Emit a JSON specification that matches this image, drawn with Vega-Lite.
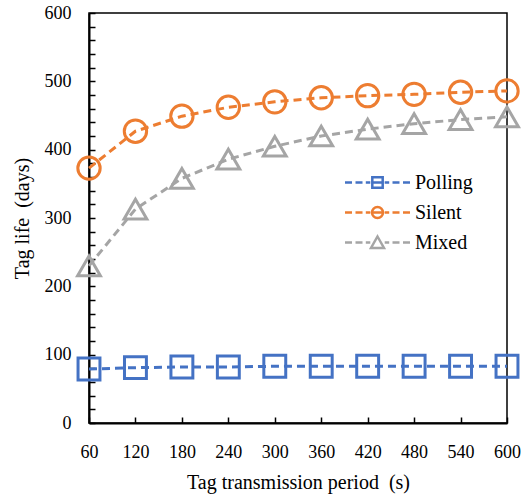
{
  "$schema": "https://vega.github.io/schema/vega-lite/v6.json",
  "width": 418,
  "height": 410,
  "autosize": {"type": "none"},
  "padding": {"left": 89, "top": 13, "right": 20, "bottom": 76},
  "background": "white",
  "data": {
    "values": [
      {"period": 60, "series": "Polling", "life": 79},
      {"period": 120, "series": "Polling", "life": 81},
      {"period": 180, "series": "Polling", "life": 82},
      {"period": 240, "series": "Polling", "life": 82},
      {"period": 300, "series": "Polling", "life": 83},
      {"period": 360, "series": "Polling", "life": 83},
      {"period": 420, "series": "Polling", "life": 83},
      {"period": 480, "series": "Polling", "life": 83},
      {"period": 540, "series": "Polling", "life": 83},
      {"period": 600, "series": "Polling", "life": 83},
      {"period": 60, "series": "Silent", "life": 373},
      {"period": 120, "series": "Silent", "life": 427},
      {"period": 180, "series": "Silent", "life": 449},
      {"period": 240, "series": "Silent", "life": 462},
      {"period": 300, "series": "Silent", "life": 470},
      {"period": 360, "series": "Silent", "life": 476},
      {"period": 420, "series": "Silent", "life": 479},
      {"period": 480, "series": "Silent", "life": 481},
      {"period": 540, "series": "Silent", "life": 484},
      {"period": 600, "series": "Silent", "life": 486},
      {"period": 60, "series": "Mixed", "life": 230},
      {"period": 120, "series": "Mixed", "life": 313},
      {"period": 180, "series": "Mixed", "life": 358},
      {"period": 240, "series": "Mixed", "life": 386},
      {"period": 300, "series": "Mixed", "life": 405},
      {"period": 360, "series": "Mixed", "life": 420},
      {"period": 420, "series": "Mixed", "life": 430},
      {"period": 480, "series": "Mixed", "life": 438},
      {"period": 540, "series": "Mixed", "life": 444},
      {"period": 600, "series": "Mixed", "life": 448}
    ]
  },
  "encoding": {
    "x": {
      "field": "period",
      "type": "quantitative",
      "scale": {"domain": [60, 600], "nice": false, "zero": false},
      "axis": {
        "title": "Tag transmission period\u00a0 (s)",
        "values": [60, 120, 180, 240, 300, 360, 420, 480, 540, 600],
        "grid": false,
        "tickSize": -6,
        "labelFlush": false,
        "labelPadding": 26,
        "titlePadding": 11
      }
    },
    "y": {
      "field": "life",
      "type": "quantitative",
      "scale": {"domain": [0, 600], "nice": false},
      "axis": {
        "title": "Tag life\u00a0 (days)",
        "values": [0, 20, 40, 60, 80, 100, 120, 140, 160, 180, 200, 220, 240, 260, 280, 300, 320, 340, 360, 380, 400, 420, 440, 460, 480, 500, 520, 540, 560, 580, 600],
        "labelExpr": "datum.value % 100 === 0 ? datum.label : ''",
        "grid": false,
        "tickSize": -6,
        "labelFlush": false,
        "labelPadding": 24,
        "titlePadding": 12
      }
    },
    "color": {
      "field": "series",
      "type": "nominal",
      "scale": {"domain": ["Polling", "Silent", "Mixed"], "range": ["#4472C4", "#ED7D31", "#A5A5A5"]}
    }
  },
  "layer": [
    {
      "mark": {"type": "line", "strokeWidth": 3, "strokeDash": [8, 5]},
      "encoding": {
        "color": {"field": "series", "type": "nominal", "legend": null}
      }
    },
    {
      "mark": {"type": "point", "filled": false, "strokeWidth": 3, "opacity": 1},
      "encoding": {
        "shape": {
          "field": "series",
          "type": "nominal",
          "scale": {"domain": ["Polling", "Silent", "Mixed"], "range": ["square", "circle", "triangle-up"]},
          "legend": null
        },
        "size": {
          "field": "series",
          "type": "nominal",
          "scale": {"domain": ["Polling", "Silent", "Mixed"], "range": [480, 520, 620]},
          "legend": null
        },
        "color": {
          "field": "series",
          "type": "nominal",
          "legend": {
            "title": null,
            "orient": "none",
            "legendX": 277,
            "legendY": 158,
            "labelFont": "Liberation Serif",
            "labelFontSize": 20,
            "labelColor": "black",
            "labelOffset": 26,
            "symbolSize": 100,
            "rowPadding": 8,
            "encoding": {
              "symbols": {
                "shape": {"value": {"expr": "datum.value === 'Polling' ? 'M-3.25,0L-2.55,0M-2.2,0L-1.5,0M-1.17,0L-0.72,0M0.72,0L1.17,0M1.5,0L2.2,0M2.55,0L3.25,0M-0.52,-0.52L0.52,-0.52L0.52,0.52L-0.52,0.52ZM-0.52,0L0.52,0' : datum.value === 'Silent' ? 'M-3.25,0L-2.55,0M-2.2,0L-1.5,0M-1.17,0L-0.72,0M0.72,0L1.17,0M1.5,0L2.2,0M2.55,0L3.25,0M0.55,0A0.55,0.55,0,1,1,-0.55,0A0.55,0.55,0,1,1,0.55,0ZM-0.55,0L0.55,0' : 'M-3.25,0L-2.55,0M-2.2,0L-1.5,0M-1.17,0L-0.72,0M0.72,0L1.17,0M1.5,0L2.2,0M2.55,0L3.25,0M0,-0.6L0.65,0.55L-0.65,0.55Z'"}},
                "size": {"value": 400},
                "strokeWidth": {"value": 2.5},
                "fill": {"value": "transparent"}
              }
            }
          }
        }
      }
    }
  ],
  "resolve": {"legend": {"color": "independent"}},
  "config": {
    "view": {"stroke": "black", "strokeWidth": 1.5},
    "font": "Liberation Serif",
    "axis": {
      "domainColor": "black",
      "domainWidth": 2,
      "tickColor": "black",
      "tickWidth": 1.5,
      "labelFont": "Liberation Serif",
      "labelFontSize": 18,
      "labelColor": "black",
      "titleFont": "Liberation Serif",
      "titleFontSize": 20,
      "titleFontWeight": "normal",
      "titleColor": "black"
    }
  }
}
